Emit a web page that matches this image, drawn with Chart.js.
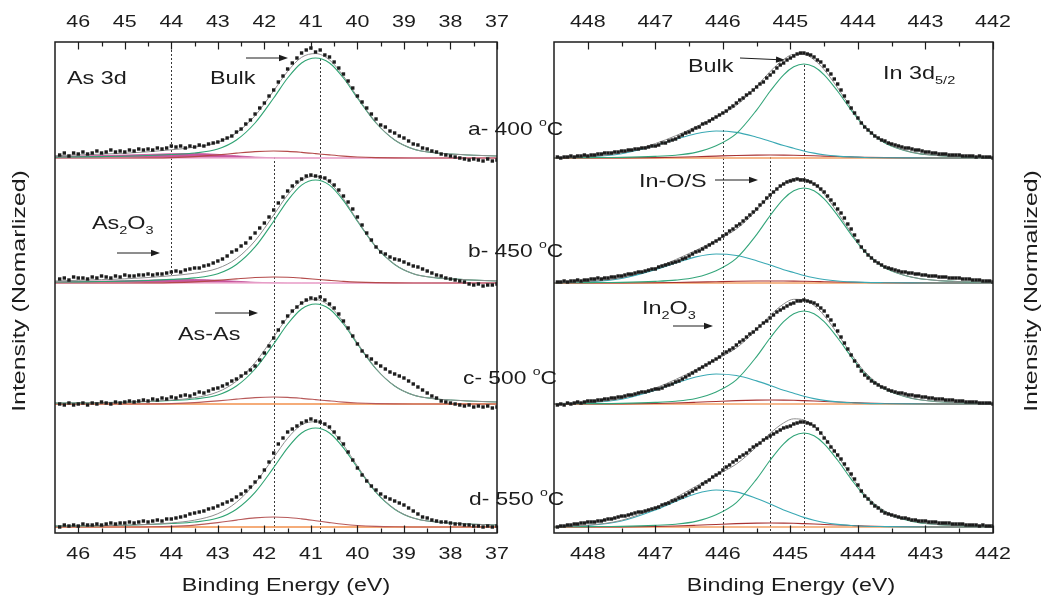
<!DOCTYPE html>
<html>
<head>
<meta charset="utf-8">
<script src="https://cdn.jsdelivr.net/npm/chart.js@4.4.1/dist/chart.umd.min.js"></script>
<style>
html,body{margin:0;padding:0;background:#fff;width:1046px;height:601px;overflow:hidden}
canvas{position:absolute;top:0}
#asChart{left:0}
#inChart{left:500px}
</style>
</head>
<body>
<canvas id="asChart" width="580" height="601"></canvas>
<canvas id="inChart" width="546" height="601"></canvas>
<script>
// ---------- axis ticks ----------
const AS_TICKS = [46, 45, 44, 43, 42, 41, 40, 39, 38, 37];
const IN_TICKS = [448, 447, 446, 445, 444, 443, 442];

// ---------- annealing temperatures (a..d) and vertical stacking offsets ----------
const SAMPLE_TAGS = ['a- 400 ', 'b- 450 ', 'c- 500 ', 'd- 550 '];
const OFFSETS = [3.75, 2.50, 1.29, 0.06];

// ---------- As 3d measured spectra (46.4 eV down to 37.0 eV, 0.1 eV steps) ----------
const AS_START = 46.4, AS_STEP = 0.1;
const AS_A = [0.03,0.05,0.02,0.05,0.04,0.06,0.04,0.05,0.07,0.05,
  0.06,0.08,0.06,0.07,0.06,0.08,0.07,0.09,0.08,0.09,
  0.08,0.10,0.09,0.10,0.12,0.11,0.12,0.10,0.12,0.11,
  0.13,0.12,0.14,0.15,0.16,0.18,0.20,0.22,0.26,0.29,
  0.34,0.38,0.44,0.50,0.55,0.62,0.68,0.76,0.82,0.89,
  0.95,1.00,1.05,1.08,1.10,1.06,1.08,1.03,1.01,0.96,
  0.90,0.84,0.77,0.70,0.62,0.56,0.50,0.44,0.39,0.33,
  0.31,0.27,0.25,0.22,0.20,0.17,0.14,0.13,0.10,0.09,
  0.07,0.06,0.04,0.03,0.02,0.01,0.00,-0.01,-0.02,-0.01,
  -0.02,-0.03,-0.01,-0.03,-0.02];
const AS_B = [0.04,0.05,0.03,0.06,0.05,0.05,0.04,0.06,0.05,0.07,
  0.06,0.05,0.07,0.06,0.08,0.07,0.07,0.08,0.08,0.09,
  0.08,0.09,0.09,0.10,0.11,0.12,0.11,0.13,0.14,0.15,
  0.15,0.17,0.18,0.20,0.22,0.24,0.27,0.31,0.33,0.37,
  0.40,0.45,0.50,0.55,0.60,0.66,0.73,0.80,0.86,0.92,
  0.97,1.01,1.04,1.07,1.08,1.07,1.06,1.05,1.02,0.98,
  0.93,0.87,0.81,0.74,0.66,0.58,0.50,0.43,0.36,0.31,
  0.29,0.26,0.24,0.23,0.21,0.19,0.17,0.16,0.14,0.12,
  0.10,0.08,0.07,0.05,0.04,0.03,0.02,0.01,-0.01,-0.02,
  -0.01,-0.03,-0.02,-0.02,-0.01];
const AS_C = [0.00,-0.01,0.01,-0.01,0.00,0.01,-0.01,0.01,0.00,0.02,
  0.01,0.00,0.02,0.01,0.02,0.03,0.02,0.03,0.04,0.03,
  0.05,0.04,0.06,0.05,0.07,0.06,0.08,0.09,0.08,0.10,
  0.12,0.11,0.13,0.15,0.16,0.18,0.20,0.23,0.25,0.28,
  0.31,0.34,0.38,0.44,0.51,0.58,0.66,0.74,0.82,0.88,
  0.93,0.97,1.01,1.04,1.06,1.05,1.07,1.04,1.00,0.96,
  0.90,0.83,0.76,0.68,0.60,0.53,0.48,0.45,0.41,0.38,
  0.35,0.32,0.30,0.28,0.26,0.23,0.20,0.17,0.14,0.11,
  0.08,0.06,0.03,0.02,0.01,0.00,-0.01,-0.02,-0.01,-0.03,
  -0.02,-0.03,-0.02,-0.04,-0.03];
const AS_D = [0.00,0.02,0.01,0.02,0.01,0.03,0.02,0.02,0.03,0.02,
  0.03,0.04,0.03,0.04,0.04,0.05,0.04,0.05,0.06,0.05,
  0.06,0.07,0.06,0.08,0.08,0.09,0.10,0.11,0.13,0.14,
  0.15,0.16,0.18,0.19,0.21,0.23,0.25,0.27,0.30,0.33,
  0.36,0.40,0.45,0.50,0.57,0.65,0.74,0.83,0.89,0.95,
  0.98,1.01,1.04,1.06,1.08,1.06,1.05,1.03,1.00,0.95,
  0.89,0.83,0.75,0.67,0.59,0.52,0.46,0.41,0.37,0.33,
  0.30,0.28,0.26,0.24,0.22,0.19,0.16,0.13,0.10,0.09,
  0.07,0.06,0.05,0.05,0.04,0.03,0.03,0.02,0.02,0.01,
  0.01,0.00,0.01,0.00,0.01];

// ---------- As 3d fitted components ----------
const AS_FIT_E = [46.5,46.0,45.5,45.0,44.5,44.0,43.5,43.0,42.6,42.2,41.8,41.5,41.2,40.9,40.6,40.3,40.0,39.6,39.2,38.8,38.4,38.0,37.5,37.0];
const AS_BULK_SHAPE = [0.009,0.011,0.014,0.018,0.025,0.035,0.05,0.09,0.18,0.35,0.6,0.8,0.95,1,0.95,0.8,0.6,0.35,0.18,0.09,0.055,0.04,0.028,0.02];
const AS_ASAS_SHAPE = [0,0,0,0.003,0.015,0.06,0.19,0.44,0.69,0.91,1,0.95,0.81,0.63,0.44,0.27,0.15,0.06,0.02,0.005,0,0,0,0];
const AS_OXIDE_SHAPE = [0.3,0.45,0.55,0.65,0.8,0.95,1,0.8,0.5,0.2,0.05,0,0,0,0,0,0,0,0,0,0,0,0,0];
const AS_BULK_H = [1.00, 1.03, 1.00, 0.99];
const AS_ASAS_H = [0.07, 0.06, 0.07, 0.10];
const AS_OXIDE_H = [0.045, 0.035, 0, 0];
const AS_REF_E = [44.0, 41.8, 40.8];

// ---------- In 3d5/2 measured spectra (448.45 eV down to 442.00 eV, 0.05 eV steps) ----------
const IN_START = 448.45, IN_STEP = 0.05;
const IN_A = [0.01,0.00,0.01,0.01,0.02,0.01,0.02,0.02,0.03,0.02,
  0.03,0.03,0.04,0.04,0.05,0.05,0.05,0.06,0.06,0.07,
  0.07,0.08,0.08,0.09,0.09,0.10,0.10,0.11,0.12,0.12,
  0.13,0.15,0.15,0.17,0.18,0.19,0.21,0.23,0.25,0.26,
  0.28,0.30,0.31,0.34,0.35,0.37,0.39,0.41,0.43,0.45,
  0.47,0.50,0.52,0.55,0.58,0.60,0.63,0.65,0.68,0.71,
  0.74,0.76,0.80,0.83,0.86,0.90,0.93,0.95,0.98,1.00,
  1.02,1.04,1.05,1.05,1.04,1.03,1.01,0.98,0.96,0.92,
  0.88,0.84,0.79,0.74,0.68,0.62,0.56,0.50,0.45,0.40,
  0.35,0.31,0.28,0.25,0.22,0.20,0.18,0.17,0.15,0.14,
  0.13,0.12,0.11,0.10,0.10,0.09,0.08,0.08,0.07,0.06,
  0.06,0.05,0.05,0.04,0.04,0.04,0.03,0.03,0.03,0.03,
  0.02,0.02,0.02,0.02,0.01,0.02,0.01,0.01,0.01,0.00];
const IN_B = [0.01,0.01,0.02,0.01,0.02,0.02,0.03,0.02,0.03,0.03,
  0.04,0.04,0.05,0.04,0.05,0.05,0.06,0.06,0.07,0.07,
  0.08,0.09,0.09,0.10,0.11,0.11,0.12,0.13,0.14,0.14,
  0.16,0.17,0.18,0.19,0.20,0.21,0.22,0.24,0.25,0.27,
  0.29,0.31,0.32,0.34,0.36,0.38,0.40,0.42,0.44,0.47,
  0.49,0.52,0.54,0.57,0.59,0.62,0.65,0.68,0.71,0.74,
  0.78,0.81,0.85,0.88,0.91,0.94,0.97,0.99,1.01,1.02,
  1.03,1.04,1.03,1.03,1.02,1.01,0.99,0.97,0.94,0.91,
  0.87,0.83,0.79,0.74,0.70,0.65,0.59,0.54,0.48,0.42,
  0.36,0.32,0.28,0.25,0.22,0.20,0.18,0.16,0.15,0.14,
  0.13,0.12,0.11,0.11,0.10,0.10,0.09,0.09,0.08,0.08,
  0.07,0.07,0.07,0.06,0.06,0.06,0.05,0.05,0.05,0.05,
  0.04,0.04,0.04,0.03,0.03,0.03,0.02,0.02,0.02,0.01];
const IN_C = [-0.01,0.00,-0.01,0.01,0.00,0.01,0.02,0.01,0.02,0.03,
  0.03,0.03,0.04,0.04,0.05,0.05,0.06,0.06,0.07,0.07,
  0.08,0.09,0.09,0.10,0.11,0.12,0.12,0.13,0.14,0.15,
  0.15,0.16,0.18,0.19,0.20,0.22,0.23,0.25,0.27,0.29,
  0.31,0.33,0.35,0.37,0.39,0.41,0.43,0.45,0.47,0.50,
  0.52,0.54,0.56,0.59,0.62,0.64,0.67,0.70,0.72,0.75,
  0.78,0.81,0.83,0.86,0.89,0.92,0.94,0.96,0.98,1.00,
  1.01,1.03,1.03,1.04,1.03,1.02,1.01,0.99,0.96,0.93,
  0.88,0.84,0.79,0.73,0.67,0.61,0.55,0.49,0.43,0.38,
  0.33,0.29,0.26,0.23,0.21,0.19,0.17,0.16,0.14,0.13,
  0.12,0.11,0.11,0.10,0.09,0.09,0.08,0.08,0.07,0.07,
  0.06,0.06,0.05,0.05,0.05,0.04,0.04,0.04,0.03,0.03,
  0.03,0.02,0.02,0.02,0.02,0.01,0.01,0.01,0.01,0.00];
const IN_D = [0.00,0.01,0.01,0.02,0.02,0.03,0.03,0.04,0.04,0.05,
  0.05,0.05,0.06,0.06,0.07,0.08,0.08,0.09,0.10,0.11,
  0.11,0.12,0.13,0.14,0.15,0.15,0.16,0.17,0.18,0.19,
  0.20,0.22,0.23,0.24,0.26,0.27,0.29,0.30,0.32,0.34,
  0.36,0.38,0.40,0.43,0.45,0.47,0.50,0.52,0.54,0.57,
  0.60,0.62,0.65,0.67,0.70,0.72,0.74,0.77,0.80,0.82,
  0.84,0.87,0.89,0.91,0.93,0.95,0.97,0.99,1.00,1.01,
  1.03,1.04,1.05,1.05,1.04,1.03,1.01,0.98,0.94,0.89,
  0.85,0.80,0.76,0.72,0.68,0.63,0.58,0.53,0.48,0.42,
  0.36,0.31,0.28,0.24,0.21,0.19,0.16,0.14,0.13,0.12,
  0.11,0.10,0.09,0.09,0.08,0.07,0.07,0.06,0.06,0.06,
  0.05,0.05,0.05,0.04,0.04,0.04,0.04,0.03,0.03,0.03,
  0.03,0.02,0.02,0.02,0.02,0.01,0.02,0.01,0.01,0.01];

// ---------- In 3d5/2 fitted components ----------
const IN_FIT_E = [448.5,448.0,447.5,447.0,446.7,446.4,446.1,445.8,445.5,445.3,445.1,444.95,444.8,444.65,444.5,444.3,444.1,443.9,443.6,443.2,442.8,442.4,442.0];
const IN_BULK_SHAPE = [0.002,0.004,0.007,0.017,0.03,0.06,0.13,0.26,0.51,0.71,0.885,0.97,1,0.97,0.885,0.71,0.51,0.33,0.16,0.06,0.025,0.012,0.006];
const IN_OXIDE_SHAPE = [0.01,0.04,0.16,0.46,0.69,0.9,1.0,0.95,0.77,0.62,0.46,0.36,0.26,0.18,0.12,0.07,0.04,0.02,0.01,0.003,0.001,0,0];
const IN_INOS_SHAPE = [0,0.005,0.03,0.14,0.25,0.43,0.64,0.84,0.97,1,0.97,0.92,0.84,0.75,0.64,0.5,0.37,0.25,0.14,0.05,0.01,0,0];
const IN_BULK_H = [0.94, 0.95, 0.93, 0.94];
const IN_OXIDE_H = [0.27, 0.29, 0.30, 0.37];
const IN_INOS_H = [0.03, 0.02, 0.04, 0.04];
const IN_REF_E = [446.0, 445.3, 444.8];

// ---------- helpers ----------
const FONT = '"Liberation Sans", Arial, Helvetica, sans-serif';
const INK = '#1c1c1c';

function measured(start, step, vals, off) {
  return vals.map((v, i) => ({ x: +(start - i * step).toFixed(2), y: v + off }));
}
function component(E, shape, h, off) {
  return E.map((e, i) => ({ x: e, y: shape[i] * h + off }));
}
function envelope(E, parts, off) {
  return E.map((e, i) => ({ x: e, y: off + parts.reduce((s, p) => s + p.shape[i] * p.h, 0) }));
}
function flat(x0, x1, off) { return [{ x: x0, y: off }, { x: x1, y: off }]; }

function drawRich(ctx, runs, x, y, opt) {
  const size = opt.size, st = opt.stretch || 1;
  const pieces = runs.map(r => {
    const s = (r.sub || r.sup) ? size * 0.62 : size;
    const dy = r.sub ? size * 0.30 : (r.sup ? -size * 0.45 : 0);
    ctx.font = s + 'px ' + FONT;
    return { t: r.t, s, dy, w: ctx.measureText(r.t).width };
  });
  const total = pieces.reduce((a, p) => a + p.w, 0);
  ctx.save();
  ctx.translate(x, y);
  if (opt.rotate) ctx.rotate(opt.rotate);
  ctx.scale(st, 1);
  ctx.textBaseline = 'alphabetic';
  ctx.textAlign = 'left';
  ctx.fillStyle = INK;
  let cx = opt.align === 'center' ? -total / 2 : 0;
  pieces.forEach(p => { ctx.font = p.s + 'px ' + FONT; ctx.fillText(p.t, cx, p.dy); cx += p.w; });
  ctx.restore();
}

function arrow(ctx, x1, y1, x2, y2) {
  const ang = Math.atan2(y2 - y1, x2 - x1), L = 9, W = 3.2;
  ctx.save();
  ctx.strokeStyle = INK; ctx.fillStyle = INK; ctx.lineWidth = 1;
  ctx.beginPath(); ctx.moveTo(x1, y1);
  ctx.lineTo(x2 - L * Math.cos(ang), y2 - L * Math.sin(ang)); ctx.stroke();
  ctx.translate(x2, y2); ctx.rotate(ang);
  ctx.beginPath(); ctx.moveTo(0, 0); ctx.lineTo(-L, -W); ctx.lineTo(-L, W); ctx.closePath(); ctx.fill();
  ctx.restore();
}

// frame, inward ticks, tick labels, titles, reference lines and notes
const decor = {
  id: 'decor',
  beforeDatasetsDraw(chart, _a, o) {
    const { ctx, scales: { x, y } } = chart;
    ctx.save();
    ctx.strokeStyle = '#222'; ctx.lineWidth = 0.9; ctx.setLineDash([2, 2]);
    o.refs.forEach(r => {
      const px = Math.round(x.getPixelForValue(r.e)) + 0.5;
      ctx.beginPath();
      ctx.moveTo(px, y.getPixelForValue(r.top));
      ctx.lineTo(px, y.getPixelForValue(r.bottom));
      ctx.stroke();
    });
    ctx.restore();
  },
  afterDraw(chart, _a, o) {
    const { ctx, chartArea: A, scales: { x } } = chart;
    ctx.save();
    ctx.strokeStyle = INK;
    ctx.lineWidth = 1.5;
    ctx.strokeRect(A.left, A.top, A.right - A.left, A.bottom - A.top);
    ctx.lineWidth = 1.2;
    const tick = (v, len) => {
      const px = Math.round(x.getPixelForValue(v)) + 0.5;
      ctx.beginPath();
      ctx.moveTo(px, A.bottom); ctx.lineTo(px, A.bottom - len);
      ctx.moveTo(px, A.top); ctx.lineTo(px, A.top + len);
      ctx.stroke();
    };
    const lo = Math.min(x.min, x.max), hi = Math.max(x.min, x.max);
    o.ticks.forEach(v => {
      tick(v, 7.5);
      const m = v + 0.5;
      if (m > lo + 0.01 && m < hi - 0.01) tick(m, 4.5);
    });
    o.ticks.forEach(v => {
      const px = x.getPixelForValue(v);
      drawRich(ctx, [{ t: String(v) }], px, 27, { size: 16.5, stretch: 1.3, align: 'center' });
      drawRich(ctx, [{ t: String(v) }], px, 559, { size: 16.5, stretch: 1.3, align: 'center' });
    });
    drawRich(ctx, [{ t: 'Binding Energy (eV)' }], o.xTitle, 591, { size: 17.5, stretch: 1.33, align: 'center' });
    drawRich(ctx, [{ t: o.yTitle.text }], o.yTitle.x, 291, { size: 18, stretch: 1.38, align: 'center', rotate: -Math.PI / 2 });
    o.notes.forEach(n => drawRich(ctx, n.runs, n.x, n.y, { size: n.size || 18, stretch: n.stretch || 1.3 }));
    o.arrows.forEach(a => arrow(ctx, a[0], a[1], a[2], a[3]));
    ctx.restore();
  }
};

function buildAs() {
  const data = [AS_A, AS_B, AS_C, AS_D];
  const ds = [];
  data.forEach((vals, i) => {
    const off = OFFSETS[i];
    ds.push({ data: measured(AS_START, AS_STEP, vals, off), showLine: false, pointStyle: 'rect',
      pointRadius: 2.4, pointBackgroundColor: INK, pointBorderWidth: 0, order: 0 });
    ds.push({ data: envelope(AS_FIT_E, [
        { shape: AS_BULK_SHAPE, h: AS_BULK_H[i] }, { shape: AS_ASAS_SHAPE, h: AS_ASAS_H[i] },
        { shape: AS_OXIDE_SHAPE, h: AS_OXIDE_H[i] }], off),
      borderColor: '#8e8e8e', borderWidth: 1, pointRadius: 0, cubicInterpolationMode: 'monotone', order: 1 });
    ds.push({ data: component(AS_FIT_E, AS_BULK_SHAPE, AS_BULK_H[i], off),
      borderColor: '#2fa373', borderWidth: 1.1, pointRadius: 0, cubicInterpolationMode: 'monotone', order: 2 });
    ds.push({ data: component(AS_FIT_E, AS_ASAS_SHAPE, AS_ASAS_H[i], off),
      borderColor: i < 2 ? '#b44a4a' : '#b85a5a', borderWidth: 1.1, pointRadius: 0, cubicInterpolationMode: 'monotone', order: 3 });
    if (AS_OXIDE_H[i] > 0) {
      ds.push({ data: component(AS_FIT_E, AS_OXIDE_SHAPE, AS_OXIDE_H[i], off),
        borderColor: '#c24f98', backgroundColor: '#c9579f', borderWidth: 0.8, pointRadius: 0,
        cubicInterpolationMode: 'monotone', fill: { value: off }, order: 5 });
    }
    ds.push({ data: flat(46.5, 37, off), borderColor: i < 2 ? '#efb2d3' : '#f2904c',
      borderWidth: 1.3, pointRadius: 0, order: 4 });
  });
  return ds;
}

function buildIn() {
  const data = [IN_A, IN_B, IN_C, IN_D];
  const ds = [];
  data.forEach((vals, i) => {
    const off = OFFSETS[i];
    ds.push({ data: measured(IN_START, IN_STEP, vals, off), showLine: false, pointStyle: 'rect',
      pointRadius: 2.4, pointBackgroundColor: INK, pointBorderWidth: 0, order: 0 });
    ds.push({ data: envelope(IN_FIT_E, [
        { shape: IN_BULK_SHAPE, h: IN_BULK_H[i] }, { shape: IN_OXIDE_SHAPE, h: IN_OXIDE_H[i] },
        { shape: IN_INOS_SHAPE, h: IN_INOS_H[i] }], off),
      borderColor: '#8e8e8e', borderWidth: 1, pointRadius: 0, cubicInterpolationMode: 'monotone', order: 1 });
    ds.push({ data: component(IN_FIT_E, IN_BULK_SHAPE, IN_BULK_H[i], off),
      borderColor: '#33a57a', borderWidth: 1.1, pointRadius: 0, cubicInterpolationMode: 'monotone', order: 2 });
    ds.push({ data: component(IN_FIT_E, IN_OXIDE_SHAPE, IN_OXIDE_H[i], off),
      borderColor: '#3aa9b4', borderWidth: 1.1, pointRadius: 0, cubicInterpolationMode: 'monotone', order: 3 });
    ds.push({ data: component(IN_FIT_E, IN_INOS_SHAPE, IN_INOS_H[i], off),
      borderColor: '#a83232', borderWidth: 1.1, pointRadius: 0, cubicInterpolationMode: 'monotone', order: 4 });
    ds.push({ data: flat(448.5, 442, off), borderColor: '#f2a066', borderWidth: 1.3, pointRadius: 0, order: 5 });
  });
  return ds;
}

function baseOptions(xmin, xmax, pad, decorOpts) {
  return {
    responsive: false, animation: false, devicePixelRatio: 1, events: [],
    layout: { padding: pad },
    scales: {
      x: { type: 'linear', reverse: true, min: xmin, max: xmax, display: false },
      y: { type: 'linear', min: 0, max: 4.91, display: false }
    },
    elements: { line: { fill: false } },
    plugins: { legend: { display: false }, tooltip: { enabled: false }, decor: decorOpts }
  };
}

const deg = t => [{ t }, { t: 'o', sup: true }, { t: 'C' }];

new Chart(document.getElementById('asChart'), {
  type: 'line',
  data: { datasets: buildAs() },
  options: baseOptions(37, 46.5, { left: 55, right: 83, top: 42, bottom: 68 }, {
    ticks: AS_TICKS,
    refs: [
      { e: AS_REF_E[0], top: 4.91, bottom: 2.58 },
      { e: AS_REF_E[1], top: 3.76, bottom: 0 },
      { e: AS_REF_E[2], top: 4.74, bottom: 0 }
    ],
    xTitle: 286,
    yTitle: { text: 'Intensity (Nomarlized)', x: 24.5 },
    notes: [
      { runs: [{ t: 'As 3d' }], x: 67, y: 84 },
      { runs: [{ t: 'Bulk' }], x: 210, y: 84 },
      { runs: [{ t: 'As' }, { t: '2', sub: true }, { t: 'O' }, { t: '3', sub: true }], x: 92, y: 229 },
      { runs: [{ t: 'As-As' }], x: 178, y: 340 },
      { runs: deg(SAMPLE_TAGS[0]), x: 468, y: 135, size: 19, stretch: 1.2 },
      { runs: deg(SAMPLE_TAGS[1]), x: 468, y: 257, size: 19, stretch: 1.2 },
      { runs: deg(SAMPLE_TAGS[2]), x: 463, y: 384, size: 19, stretch: 1.2 },
      { runs: deg(SAMPLE_TAGS[3]), x: 469, y: 505, size: 19, stretch: 1.2 }
    ],
    arrows: [[246, 58, 288, 58], [117, 253, 160, 253], [215, 313, 258, 313]]
  }),
  plugins: [decor]
});

new Chart(document.getElementById('inChart'), {
  type: 'line',
  data: { datasets: buildIn() },
  options: baseOptions(442, 448.5, { left: 54, right: 53, top: 42, bottom: 68 }, {
    ticks: IN_TICKS,
    refs: [
      { e: IN_REF_E[0], top: 4.03, bottom: 0 },
      { e: IN_REF_E[1], top: 3.76, bottom: 0 },
      { e: IN_REF_E[2], top: 4.68, bottom: 0 }
    ],
    xTitle: 291,
    yTitle: { text: 'Intensity (Normalized)', x: 536.5 },
    notes: [
      { runs: [{ t: 'Bulk' }], x: 188, y: 72 },
      { runs: [{ t: 'In 3d' }, { t: '5/2', sub: true }], x: 383, y: 79 },
      { runs: [{ t: 'In-O/S' }], x: 139, y: 187 },
      { runs: [{ t: 'In' }, { t: '2', sub: true }, { t: 'O' }, { t: '3', sub: true }], x: 142, y: 314 }
    ],
    arrows: [[240, 58, 285, 60], [215, 180, 258, 180], [173, 326, 213, 326]]
  }),
  plugins: [decor]
});
</script>
</body>
</html>
